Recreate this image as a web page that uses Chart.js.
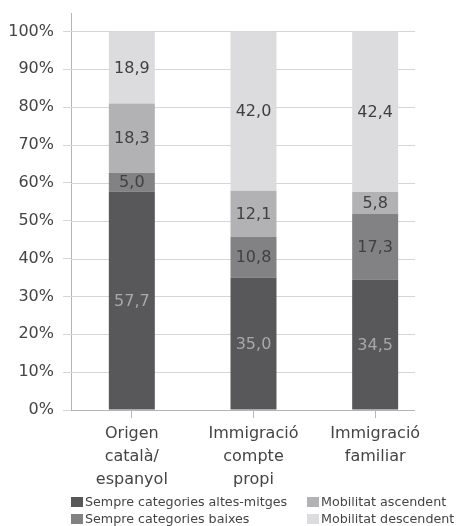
<!DOCTYPE html>
<html lang="ca">
<head>
    <meta charset="UTF-8">
    <title>Mobilitat</title>
    <script src="https://cdn.jsdelivr.net/npm/chart.js"></script>
    <style>
        * {
            padding: 0;
            margin: 0;
        }
        body {
            background: #ffffff;
            font-family: 'DejaVu Sans', sans-serif;
        }
        .wrap {
            position: relative;
            width: 456px;
            height: 526px;
        }
        .legend {
            position: absolute;
            left: 0;
            top: 0;
            width: 456px;
            height: 526px;
            pointer-events: none;
        }
        .legend span {
            position: absolute;
            font-size: 12.7px;
            line-height: 17px;
            color: #444;
            white-space: nowrap;
        }
        .legend i {
            display: inline-block;
            width: 12px;
            height: 10px;
            margin-right: 2px;
            vertical-align: -1px;
        }
    </style>
</head>
<body>
<div class="wrap">
    <canvas id="myChart" width="456" height="526"></canvas>
    <div class="legend" id="legend"></div>
</div>
<script>
    const categories = [
        ['Origen', 'català/', 'espanyol'],
        ['Immigració', 'compte', 'propi'],
        ['Immigració', 'familiar']
    ];
    const seriesNames = [
        'Sempre categories altes-mitges',
        'Sempre categories baixes',
        'Mobilitat ascendent',
        'Mobilitat descendent'
    ];
    const altesMitges = [57.7, 35.0, 34.5];
    const baixes = [5.0, 10.8, 17.3];
    const ascendent = [18.3, 12.1, 5.8];
    const descendent = [18.9, 42.0, 42.4];
    const yTicks = [0, 10, 20, 30, 40, 50, 60, 70, 80, 90, 100];

    const colors = ['#58585a', '#828284', '#b2b2b4', '#dcdcde'];
    const labelColors = ['#a8a8aa', '#404040', '#404040', '#404040'];
    const seriesData = [altesMitges, baixes, ascendent, descendent];
    const FONT = '"DejaVu Sans", sans-serif';
    const TEXT = '#444444';
    const GRID_RIGHT = 415; // gridlines stop short of the category area
    const AXIS_TOP = 13;    // y axis line runs a bit above the plot

    // horizontal gridlines (shorter than the chart area, like the original)
    const shortGrid = {
        id: 'shortGrid',
        beforeDatasetsDraw(chart) {
            const ctx = chart.ctx;
            const y = chart.scales.y;
            const area = chart.chartArea;
            ctx.save();
            ctx.lineWidth = 1;
            yTicks.forEach(v => {
                const py = Math.round(y.getPixelForValue(v)) + 0.5;
                ctx.strokeStyle = v === 0 ? '#b4b4b4' : '#d6d6d6';
                ctx.beginPath();
                ctx.moveTo(area.left, py);
                ctx.lineTo(GRID_RIGHT, py);
                ctx.stroke();
            });
            // extend the y axis line upwards
            ctx.strokeStyle = '#b4b4b4';
            ctx.beginPath();
            ctx.moveTo(area.left + 0.5, AXIS_TOP);
            ctx.lineTo(area.left + 0.5, area.top + 1);
            ctx.stroke();
            ctx.restore();
        }
    };

    // centred value labels inside each segment
    const valueLabels = {
        id: 'valueLabels',
        afterDatasetsDraw(chart) {
            const ctx = chart.ctx;
            ctx.save();
            ctx.font = '16px ' + FONT;
            ctx.textAlign = 'center';
            ctx.textBaseline = 'middle';
            chart.data.datasets.forEach((ds, i) => {
                const meta = chart.getDatasetMeta(i);
                meta.data.forEach((bar, j) => {
                    const v = ds.data[j];
                    ctx.fillStyle = labelColors[i];
                    ctx.fillText(v.toFixed(1).replace('.', ','), bar.x, (bar.y + bar.base) / 2 + 1);
                });
            });
            ctx.restore();
        }
    };

    const ctx = document.getElementById('myChart').getContext('2d');
    const chart = new Chart(ctx, {
        type: 'bar',
        data: {
            labels: categories,
            datasets: seriesNames.map((name, i) => ({
                label: name,
                data: seriesData[i],
                backgroundColor: colors[i],
                borderWidth: 0,
                categoryPercentage: 1,
                barPercentage: 0.378
            }))
        },
        options: {
            responsive: false,
            animation: false,
            layout: {
                padding: { top: 9, right: 20, bottom: 36, left: 0 }
            },
            plugins: {
                legend: { display: false },
                tooltip: { enabled: false }
            },
            scales: {
                x: {
                    stacked: true,
                    grid: {
                        offset: false,
                        drawOnChartArea: false,
                        drawTicks: true,
                        tickLength: 8,
                        color: '#b8b8b8'
                    },
                    border: { display: false },
                    ticks: {
                        color: TEXT,
                        padding: 4,
                        maxRotation: 0,
                        font: { family: FONT, size: 16, lineHeight: 1.45 }
                    },
                    afterFit(scale) {
                        scale.height = 80;
                    }
                },
                y: {
                    stacked: true,
                    min: 0,
                    max: 103.4,
                    grid: {
                        drawOnChartArea: false,
                        color: '#d6d6d6',
                        tickLength: 8
                    },
                    border: { color: '#b4b4b4' },
                    ticks: {
                        stepSize: 10,
                        color: TEXT,
                        padding: 9,
                        font: { family: FONT, size: 16 },
                        callback: v => v + '%'
                    },
                    afterBuildTicks(scale) {
                        scale.ticks = yTicks.map(v => ({ value: v }));
                    },
                    afterFit(scale) {
                        scale.width = 71;
                    }
                }
            }
        },
        plugins: [shortGrid, valueLabels]
    });

    // legend in two columns (first two series left, last two right)
    const legendPos = [[71, 493], [71, 510], [307, 493], [307, 510]];
    const legend = document.getElementById('legend');
    seriesNames.forEach((name, i) => {
        const item = document.createElement('span');
        item.style.left = legendPos[i][0] + 'px';
        item.style.top = legendPos[i][1] + 'px';
        item.innerHTML = '<i style="background:' + colors[i] + '"></i>' + name;
        legend.appendChild(item);
    });
</script>
</body>
</html>
